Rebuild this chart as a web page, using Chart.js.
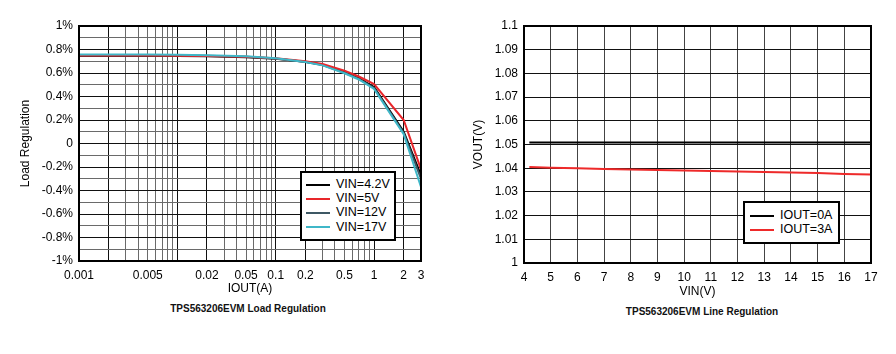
<!DOCTYPE html>
<html>
<head>
<meta charset="utf-8">
<script src="https://cdn.jsdelivr.net/npm/chart.js@4.4.1/dist/chart.umd.min.js"></script>
<style>
body { margin: 0; background: #fff; width: 896px; height: 354px; position: relative; overflow: hidden; font-family: "Liberation Sans", Arial, sans-serif; }
canvas { position: absolute; top: 0; }
#loadChart { left: 0; }
#lineChart { left: 450px; }
.legend { position: absolute; background: #fff; border: 2px solid #000; box-sizing: border-box; font-size: 12.5px; color: #000; }
.legend div { height: 14.2px; line-height: 14.2px; white-space: nowrap; }
.legend span { display: inline-block; width: 24px; height: 2px; vertical-align: middle; margin-right: 6px; }
.caption { position: absolute; width: 300px; font-weight: bold; font-size: 10px; text-align: center; color: #111; }
</style>
</head>
<body>
<canvas id="loadChart" width="440" height="300"></canvas>
<canvas id="lineChart" width="446" height="300"></canvas>
<div class="legend" id="loadLegend" style="left:300px; top:171px; width:96px; height:70px; padding:4px 0 0 4px;"></div>
<div class="legend" id="lineLegend" style="left:743px; top:201px; width:97px; height:43px; padding:5px 0 0 5px;"></div>
<div class="caption" style="left:98px; top:303px;">TPS563206EVM Load Regulation</div>
<div class="caption" style="left:552px; top:306px;">TPS563206EVM Line Regulation</div>
<script>
// load regulation (%), x = IOUT in A
var iout = [0.001, 0.002, 0.005, 0.01, 0.02, 0.05, 0.1, 0.2, 0.3, 0.5, 0.7, 1, 2, 3];
var reg42 = [0.745, 0.745, 0.745, 0.744, 0.742, 0.735, 0.722, 0.695, 0.670, 0.605, 0.555, 0.480, 0.10, -0.27];
var reg5  = [0.748, 0.748, 0.748, 0.747, 0.745, 0.738, 0.725, 0.700, 0.677, 0.620, 0.570, 0.505, 0.20, -0.22];
var reg12 = [0.750, 0.750, 0.750, 0.749, 0.746, 0.738, 0.724, 0.694, 0.668, 0.602, 0.550, 0.472, 0.09, -0.30];
var reg17 = [0.758, 0.758, 0.757, 0.756, 0.752, 0.742, 0.726, 0.694, 0.665, 0.598, 0.545, 0.465, 0.08, -0.37];
var loadNames = ["VIN=4.2V", "VIN=5V", "VIN=12V", "VIN=17V"];
var ioutTickLabels = [0.001, 0.005, 0.02, 0.05, 0.1, 0.2, 0.5, 1, 2, 3];
var regTickLabels = [-1, -0.8, -0.6, -0.4, -0.2, 0, 0.2, 0.4, 0.6, 0.8, 1];

// line regulation, x = VIN in V
var vin = [4.2, 5, 6, 7, 8, 9, 10, 11, 12, 13, 14, 15, 16, 17];
var vout0A = [1.0508, 1.0508, 1.0508, 1.0508, 1.0508, 1.0508, 1.0508, 1.0508, 1.0508, 1.0508, 1.0508, 1.0508, 1.0508, 1.0508];
var vout3A = [1.0405, 1.0402, 1.0400, 1.0397, 1.0395, 1.0392, 1.0390, 1.0388, 1.0386, 1.0384, 1.0382, 1.0380, 1.0376, 1.0373];
var lineNames = ["IOUT=0A", "IOUT=3A"];

var loadColors = ["#000000", "#e8262a", "#3d5864", "#3fb7c8"];
var lineColors = ["#000000", "#ee2a2a"];

var fontName = "'Liberation Sans', Arial, sans-serif";
Chart.defaults.font.family = fontName;
Chart.defaults.color = "#000";

function pairs(xs, ys) {
    return xs.map(function (x, i) { return { x: x, y: ys[i] }; });
}

var frame = {
    id: "frame",
    afterDatasetsDraw: function (chart) {
        var a = chart.chartArea, ctx = chart.ctx;
        ctx.save();
        ctx.strokeStyle = "#000";
        ctx.lineWidth = 2;
        ctx.strokeRect(a.left, a.top, a.right - a.left, a.bottom - a.top);
        ctx.restore();
    }
};

// grid lines 1..9 per decade
var logGrid = [];
[0.001, 0.01, 0.1, 1].forEach(function (d) {
    for (var k = 1; k <= 9; k++) {
        var v = +(k * d).toPrecision(3);
        if (v <= 3) logGrid.push(v);
    }
});

function findTick(list, v) {
    for (var i = 0; i < list.length; i++) {
        if (Math.abs(list[i] - v) < 1e-6 + Math.abs(list[i]) * 1e-6) return list[i];
    }
    return null;
}

var loadSets = [reg42, reg5, reg12, reg17].map(function (s, i) {
    return {
        label: loadNames[i],
        data: pairs(iout, s),
        borderColor: loadColors[i],
        borderWidth: 2,
        pointRadius: 0,
        tension: 0,
        order: [3, 1, 2, 0][i]
    };
});

new Chart(document.getElementById("loadChart"), {
    type: "line",
    data: { datasets: loadSets },
    options: {
        responsive: false,
        animation: false,
        layout: { padding: { top: 26, right: 19, left: 0, bottom: 0 } },
        plugins: { legend: { display: false }, tooltip: { enabled: false } },
        scales: {
            x: {
                type: "logarithmic",
                min: 0.001,
                max: 3,
                afterBuildTicks: function (s) { s.ticks = logGrid.map(function (v) { return { value: v }; }); },
                afterFit: function (s) { s.height = 39; },
                border: { display: false },
                grid: {
                    drawTicks: false,
                    color: function (ctx) {
                        var v = ctx.tick ? ctx.tick.value : 0;
                        var sig = Math.round(v / Math.pow(10, Math.floor(Math.log10(v) + 1e-9)));
                        return sig === 1 || sig === 2 ? "#111" : "#6a6a6a";
                    }
                },
                ticks: {
                    autoSkip: false,
                    maxRotation: 0,
                    padding: 7,
                    font: { size: 12 },
                    callback: function (v) {
                        var t = findTick(ioutTickLabels, v);
                        return t === null ? "" : String(t);
                    }
                },
                title: { display: true, text: "IOUT(A)", font: { size: 12 }, padding: { top: 0, bottom: 4 } }
            },
            y: {
                min: -1,
                max: 1,
                afterFit: function (s) { s.width = 79; },
                border: { display: false },
                grid: {
                    drawTicks: false,
                    color: function (ctx) {
                        var v = ctx.tick ? ctx.tick.value : 0;
                        return findTick(regTickLabels, v) === null ? "#6a6a6a" : "#111";
                    }
                },
                ticks: {
                    stepSize: 0.1,
                    autoSkip: false,
                    padding: 6,
                    font: { size: 12 },
                    callback: function (v) {
                        var t = findTick(regTickLabels, v);
                        if (t === null) return "";
                        return t === 0 ? "0" : t + "%";
                    }
                },
                title: { display: true, text: "Load Regulation", font: { size: 12 }, padding: { top: 18, bottom: 0 } }
            }
        }
    },
    plugins: [frame]
});

var lineSets = [vout0A, vout3A].map(function (s, i) {
    return {
        label: lineNames[i],
        data: pairs(vin, s),
        borderColor: lineColors[i],
        borderWidth: 2,
        pointRadius: 0,
        tension: 0
    };
});

new Chart(document.getElementById("lineChart"), {
    type: "line",
    data: { datasets: lineSets },
    options: {
        responsive: false,
        animation: false,
        layout: { padding: { top: 26, right: 25, left: 0, bottom: 0 } },
        plugins: { legend: { display: false }, tooltip: { enabled: false } },
        scales: {
            x: {
                type: "linear",
                min: 4,
                max: 17,
                afterFit: function (s) { s.height = 37; },
                border: { display: false },
                grid: { drawTicks: false, color: "#444" },
                ticks: { stepSize: 1, autoSkip: false, maxRotation: 0, padding: 7, font: { size: 12 } },
                title: { display: true, text: "VIN(V)", font: { size: 12 }, padding: { top: 0, bottom: 1 } }
            },
            y: {
                min: 1,
                max: 1.1,
                afterFit: function (s) { s.width = 74; },
                border: { display: false },
                grid: { drawTicks: false, color: "#111" },
                ticks: {
                    stepSize: 0.01,
                    autoSkip: false,
                    padding: 6,
                    font: { size: 12 },
                    callback: function (v) { return String(+v.toFixed(2)); }
                },
                title: { display: true, text: "VOUT(V)", font: { size: 12 }, padding: { top: 21, bottom: 0 } }
            }
        }
    },
    plugins: [frame]
});

function buildLegend(id, names, colors) {
    var box = document.getElementById(id);
    names.forEach(function (n, i) {
        var row = document.createElement("div");
        var sw = document.createElement("span");
        sw.style.background = colors[i];
        row.appendChild(sw);
        row.appendChild(document.createTextNode(n));
        box.appendChild(row);
    });
}
buildLegend("loadLegend", loadNames, loadColors);
buildLegend("lineLegend", lineNames, lineColors);
</script>
</body>
</html>
